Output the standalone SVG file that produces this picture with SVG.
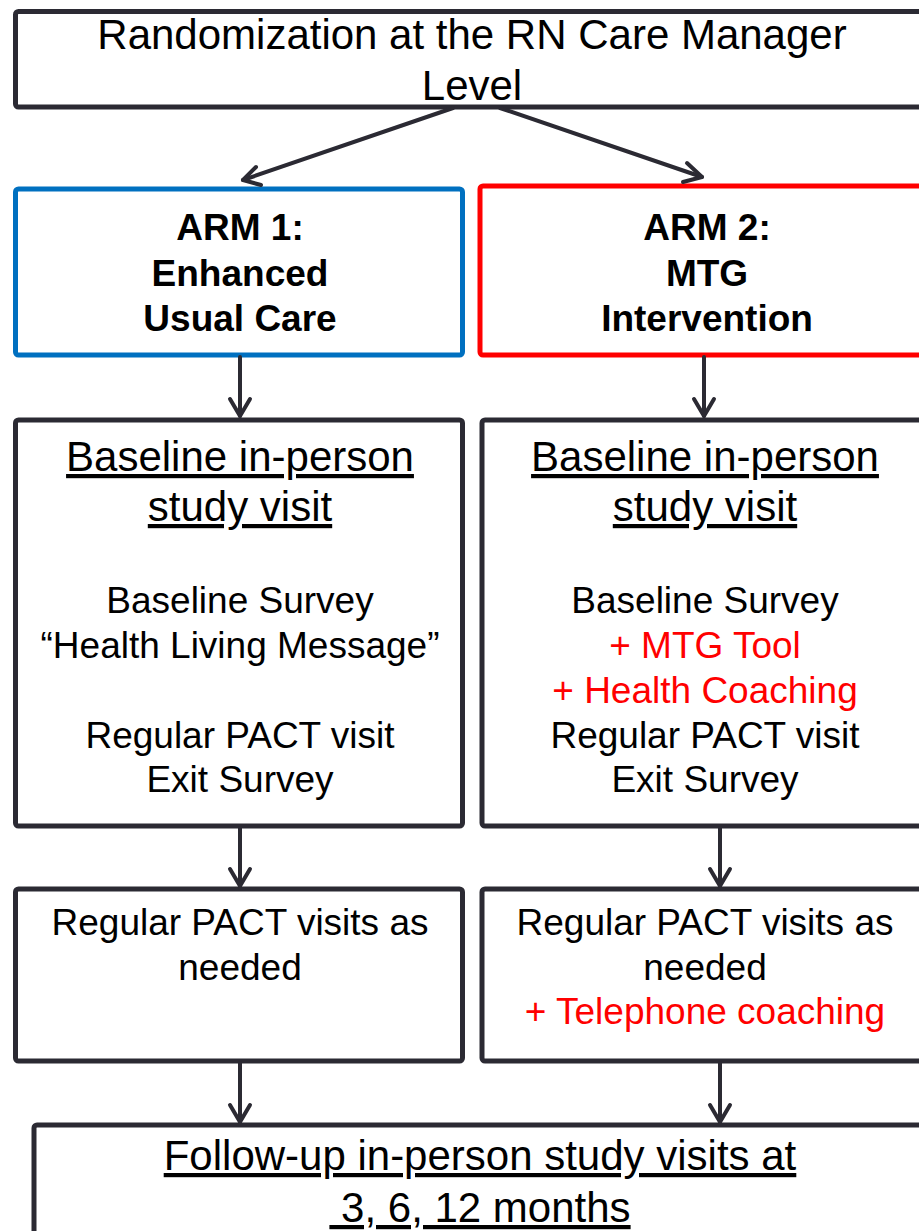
<svg xmlns="http://www.w3.org/2000/svg" width="919" height="1231" viewBox="0 0 919 1231">
  <style>
    .box { fill: #ffffff; stroke: #2b2a33; stroke-width: 5; }
    .arm1 { fill: #ffffff; stroke: #0070c0; stroke-width: 5; }
    .arm2 { fill: #ffffff; stroke: #ff0000; stroke-width: 5; }
    text { font-family: "Liberation Sans", Arial, sans-serif; fill: #000000; text-anchor: middle; }
    .big { font-size: 42px; }
    .body { font-size: 37px; }
    .bold { font-size: 37px; font-weight: bold; }
    .red { fill: #ff0000; }
    .u { text-decoration: underline; }
    .conn line, .conn polyline { stroke: #2b2a33; stroke-width: 4; fill: none; stroke-linecap: round; stroke-linejoin: round; }
  </style>

  <!-- top: randomization -->
  <g id="randomization">
    <rect class="box" x="15.5" y="11.5" width="940" height="95.5" rx="3"/>
    <text class="big" x="472" y="49">Randomization at the RN Care Manager</text>
    <text class="big" x="472" y="100">Level</text>
  </g>

  <!-- study arms -->
  <g id="arm1">
    <rect class="arm1" x="15.5" y="189" width="447" height="166" rx="3"/>
    <text class="bold" x="240" y="240">ARM 1:</text>
    <text class="bold" x="240" y="286">Enhanced</text>
    <text class="bold" x="240" y="331">Usual Care</text>
  </g>
  <g id="arm2">
    <rect class="arm2" x="480" y="186" width="470" height="169" rx="3"/>
    <text class="bold" x="707" y="240">ARM 2:</text>
    <text class="bold" x="707" y="286">MTG</text>
    <text class="bold" x="707" y="331">Intervention</text>
  </g>

  <!-- baseline visits -->
  <g id="baseline1">
    <rect class="box" x="15.5" y="420" width="447" height="406" rx="3"/>
    <text class="big u" x="240" y="471">Baseline in-person</text>
    <text class="big u" x="240" y="521">study visit</text>
    <text class="body" x="240" y="613">Baseline Survey</text>
    <text class="body" x="240" y="658">“Health Living Message”</text>
    <text class="body" x="240" y="748">Regular PACT visit</text>
    <text class="body" x="240" y="792">Exit Survey</text>
  </g>
  <g id="baseline2">
    <rect class="box" x="482" y="420" width="470" height="406" rx="3"/>
    <text class="big u" x="705" y="471">Baseline in-person</text>
    <text class="big u" x="705" y="521">study visit</text>
    <text class="body" x="705" y="613">Baseline Survey</text>
    <text class="body red" x="705" y="658">+ MTG Tool</text>
    <text class="body red" x="705" y="703">+ Health Coaching</text>
    <text class="body" x="705" y="748">Regular PACT visit</text>
    <text class="body" x="705" y="792">Exit Survey</text>
  </g>

  <!-- ongoing care -->
  <g id="regular1">
    <rect class="box" x="15.5" y="889" width="447" height="172" rx="3"/>
    <text class="body" x="240" y="935">Regular PACT visits as</text>
    <text class="body" x="240" y="980">needed</text>
  </g>
  <g id="regular2">
    <rect class="box" x="482" y="889" width="470" height="172" rx="3"/>
    <text class="body" x="705" y="935">Regular PACT visits as</text>
    <text class="body" x="705" y="980">needed</text>
    <text class="body red" x="705" y="1024">+ Telephone coaching</text>
  </g>

  <!-- follow-up -->
  <g id="followup">
    <rect class="box" x="34" y="1125" width="930" height="150" rx="3"/>
    <text class="big u" x="480" y="1170">Follow-up in-person study visits at</text>
    <text class="big u" x="480" y="1222" xml:space="preserve" style="white-space:pre"> 3, 6, 12 months</text>
  </g>

  <!-- connectors -->
  <g id="connectors" class="conn">
    <line x1="453" y1="108" x2="243" y2="180"/>
    <polyline points="256,167 243,180 261,185"/>
    <line x1="500" y1="108" x2="702" y2="177"/>
    <polyline points="687,163 702,177 683,182"/>

    <line x1="240" y1="357" x2="240" y2="416"/>
    <polyline points="230,399 240,416 250,399"/>
    <line x1="704" y1="357" x2="704" y2="416"/>
    <polyline points="694,399 704,416 714,399"/>

    <line x1="240" y1="828" x2="240" y2="886"/>
    <polyline points="230,869 240,886 250,869"/>
    <line x1="720" y1="828" x2="720" y2="886"/>
    <polyline points="710,869 720,886 730,869"/>

    <line x1="240" y1="1063" x2="240" y2="1122"/>
    <polyline points="230,1105 240,1122 250,1105"/>
    <line x1="720" y1="1063" x2="720" y2="1122"/>
    <polyline points="710,1105 720,1122 730,1105"/>
  </g>
</svg>
